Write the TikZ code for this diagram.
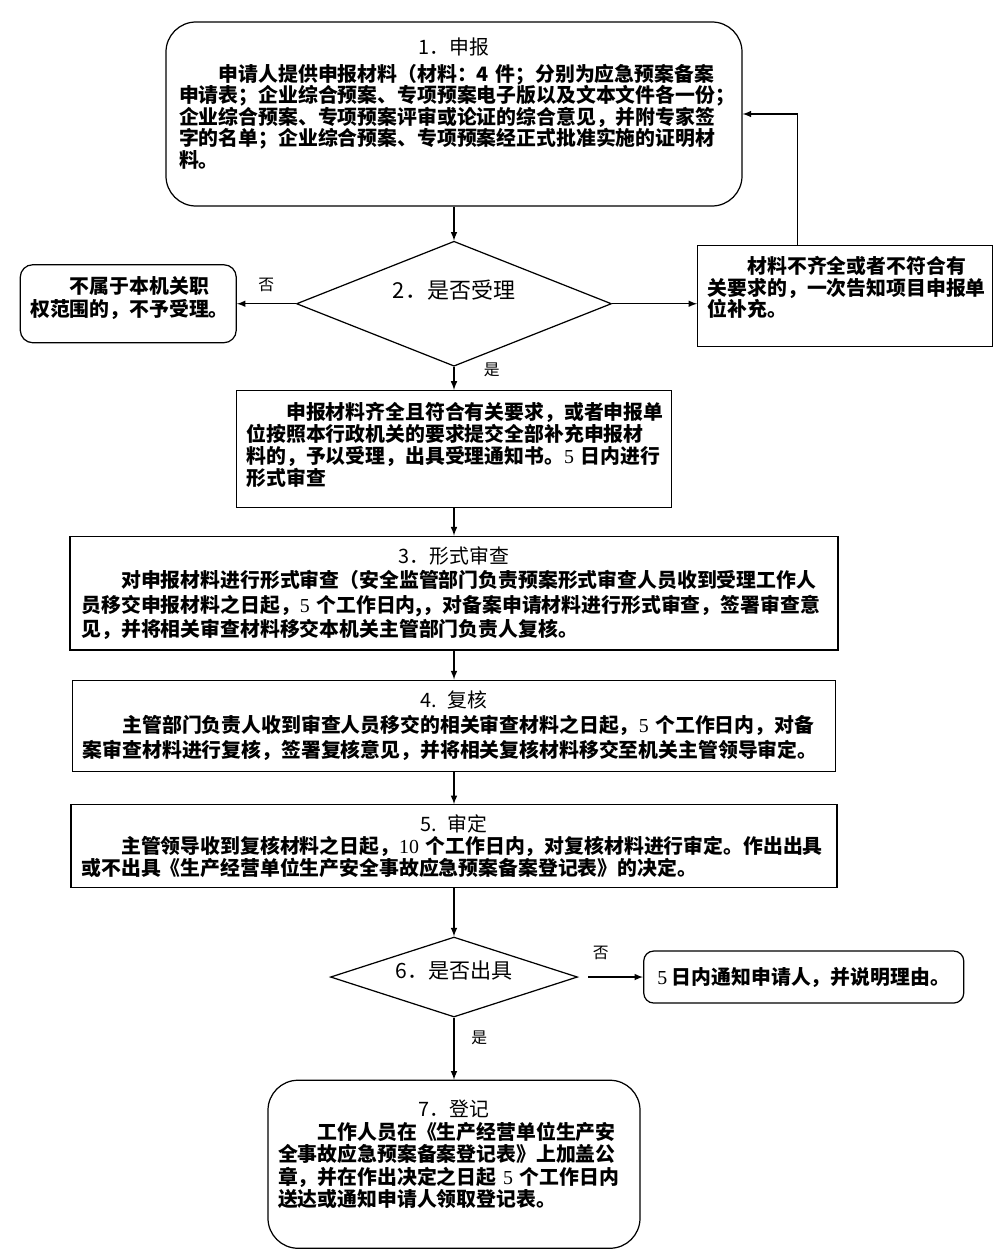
\documentclass[tikz,border=0pt]{standalone}
\usepackage{fontspec}
\setmainfont{Noto Sans CJK SC}
\newfontfamily\numfont{Liberation Serif}
\usetikzlibrary{positioning}
\usetikzlibrary{calc}
\usetikzlibrary{shapes.geometric}
\usetikzlibrary{arrows.meta}
\newcommand{\sn}[1]{{\numfont\mdseries #1}}
\newcommand{\tail}[1]{\rule[-#1]{0pt}{#1}}
\newcommand{\head}[1]{{\centering\mdseries #1\par}\noindent\hspace*{2em}}
\tikzset{
  box/.style={draw, rectangle, line width=0.7pt, align=left, inner sep=0.2cm},
  rbox/.style={box, rounded corners=#1},
  choice/.style={draw, diamond, line width=0.7pt, inner sep=0pt, aspect=2.5},
  txt/.style={font=\fontsize{11.3}{#1}\selectfont\bfseries},
  tag/.style={font=\fontsize{9}{10}\selectfont, inner sep=1pt},
}
\begin{document}
\begin{tikzpicture}[-latex, line width=0.7pt]
    \useasboundingbox (0,0) rectangle (20,-25.08);
    \node[rbox=0.6cm, txt=12.2pt, minimum width=11.52cm, minimum height=3.68cm, text width=11.0cm] (apply) at (9.08,-2.28) {{\centering\mdseries 1．申报\par}\vspace{3pt}\noindent\hspace*{2em}申请人提供申报材料（材料：4~件；分别为应急预案备案\\申请表；企业综合预案、专项预案电子版以及文本文件各一份；\\企业综合预案、专项预案评审或论证的综合意见，并附专家签\\字的名单；企业综合预案、专项预案经正式批准实施的证明材\\料。\tail{0.46cm}};
    \node[choice, minimum width=6.3cm, minimum height=2.5cm, font=\fontsize{12.5}{14}\selectfont, below=0.68cm of apply] (accept) {2．是否受理\tail{0.6cm}};
    \node[rbox=0.25cm, txt=13pt, minimum width=4.32cm, minimum height=1.56cm, text width=3.92cm, left=1.18cm of accept] (reject) {\noindent\hspace*{2em}不属于本机关职\\权范围的，不予受理。\tail{0.28cm}};
    \node[box, txt=12.2pt, minimum width=5.9cm, minimum height=2.02cm, text width=5.5cm, right=1.7cm of accept, yshift=0.16cm] (lack) {\noindent\hspace*{2em}材料不齐全或者不符合有\\关要求的，一次告知项目申报单\\位补充。\tail{0.36cm}};
    \node[box, txt=12.5pt, minimum width=8.7cm, minimum height=2.34cm, text width=8.3cm, below=0.46cm of accept] (passed) {\noindent\hspace*{2em}申报材料齐全且符合有关要求，或者申报单\\位按照本行政机关的要求提交全部补充申报材\\料的，予以受理，出具受理通知书。\sn{5}~日内进行\\形式审查\tail{0.2cm}};
    \node[box, txt=14pt, minimum width=15.36cm, minimum height=2.26cm, text width=14.9cm, below=0.55cm of passed] (check) {\head{3．形式审查}对申报材料进行形式审查（安全监管部门负责预案形式审查人员收到受理工作人\\员移交申报材料之日起，\sn{5}~个工作日内,，对备案申请材料进行形式审查，签署审查意\\见，并将相关审查材料移交本机关主管部门负责人复核。};
    \node[box, txt=14.2pt, minimum width=15.26cm, minimum height=1.82cm, text width=14.85cm, below=0.58cm of check] (review) {\head{4. 复核}主管部门负责人收到审查人员移交的相关审查材料之日起，\sn{5}~个工作日内，对备\\案审查材料进行复核，签署复核意见，并将相关复核材料移交至机关主管领导审定。};
    \node[box, txt=12.5pt, minimum width=15.32cm, minimum height=1.62cm, text width=14.9cm, below=0.65cm of review] (decide) {\head{5. 审定}主管领导收到复核材料之日起，\sn{10}~个工作日内，对复核材料进行审定。作出出具\\或不出具《生产经营单位生产安全事故应急预案备案登记表》的决定。};
    \node[choice, minimum width=4.94cm, minimum height=1.6cm, font=\fontsize{12}{14}\selectfont, below=0.96cm of decide] (issue) {6．是否出具\tail{0.3cm}};
    \node[rbox=0.2cm, txt=13pt, align=center, minimum width=6.4cm, minimum height=1.04cm, right=1.3cm of issue] (notify) {\sn{5}~日内通知申请人，并说明理由。};
    \node[rbox=0.6cm, txt=12.8pt, minimum width=7.44cm, minimum height=3.36cm, text width=7.04cm, below=1.24cm of issue] (record) {\head{7．登记}工作人员在《生产经营单位生产安\\全事故应急预案备案登记表》上加盖公\\章，并在作出决定之日起~\sn{5}~个工作日内\\送达或通知申请人领取登记表。\tail{0.44cm}};

    \draw (apply) -- (accept);
    \draw (accept) -- node[tag, above=0.2cm] {否} (reject);
    \draw (accept.east) -- (accept.east -| lack.west);
    \draw ($(lack.north west)!0.34!(lack.north east)$) |- (apply.east);
    \draw (accept) -- node[tag, right=0.55cm, pos=0.15] {是} (passed);
    \draw (passed) -- (check);
    \draw (check) -- (review);
    \draw (review) -- (decide);
    \draw (decide) -- (issue);
    \draw[shorten <=0.2cm] (issue) -- node[tag, above=0.3cm, pos=0.35] {否} (notify);
    \draw (issue) -- node[tag, right=0.3cm, pos=0.32] {是} (record);
\end{tikzpicture}
\end{document}
